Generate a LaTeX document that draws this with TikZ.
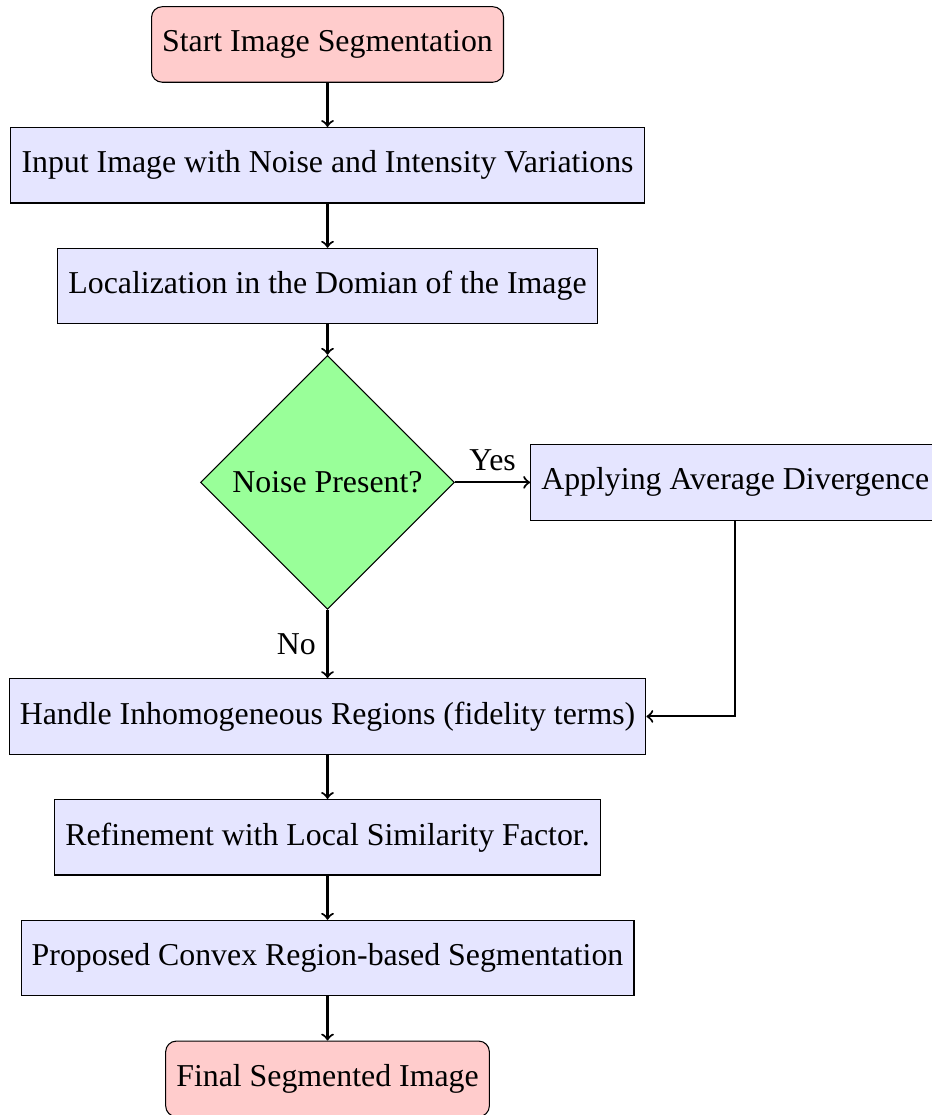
\documentclass[12pt,tikz,border=0pt]{standalone}
\usepackage{fontspec}
\setmainfont{Liberation Serif}
\usetikzlibrary{shapes.geometric}

\begin{document}
\begin{tikzpicture}[
    startstop/.style={rectangle, rounded corners, minimum width=3cm, minimum height=1cm, text centered, draw=black, fill=red!20},
    process/.style={rectangle, minimum width=3cm, minimum height=1cm, text centered, draw=black, fill=blue!10},
    decision/.style={diamond, aspect=1, text centered, draw=black, fill=green!40},
    arrow/.style={thick, ->}]
            \useasboundingbox (-4.338,0.589) rectangle (7.993,-14.179);
            \node [startstop] (start) at (0,0) {Start Image Segmentation};
            \node [process] (input) at (0,-1.6) {Input Image with Noise and Intensity Variations};
            \node [process] (local) at (0,-3.2) {Localization in the Domian of the Image};
            \node [decision] (noise) at (0,-5.8) {Noise Present?};
            \node [process] (diverg) at (5.4,-5.8) {Applying Average Divergence};
            \node [process] (handle) at (0,-8.9) {Handle Inhomogeneous Regions (fidelity terms)};
            \node [process] (refine) at (0,-10.5) {Refinement with Local Similarity Factor.};
            \node [process] (convex) at (0,-12.1) {Proposed Convex Region-based Segmentation};
            \node [startstop] (final) at (0,-13.7) {Final Segmented Image};
            \draw [arrow] (start) -- (input);
            \draw [arrow] (input) -- (local);
            \draw [arrow] (local) -- (noise);
            \draw [arrow] (noise) -- node [above] {Yes} (diverg);
            \draw [arrow] (noise) -- node [left] {No} (handle);
            \draw [arrow] (diverg) |- (handle);
            \draw [arrow] (handle) -- (refine);
            \draw [arrow] (refine) -- (convex);
            \draw [arrow] (convex) -- (final);
        \end{tikzpicture}
\end{document}
